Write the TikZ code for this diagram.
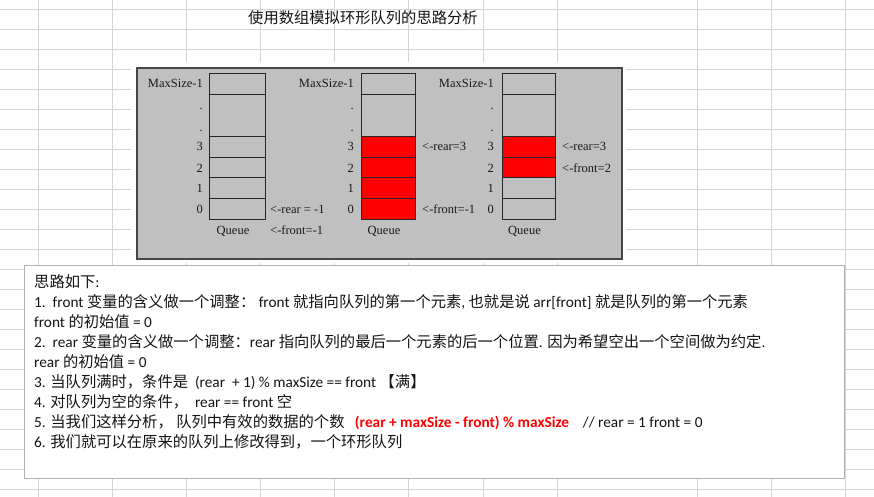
\documentclass[tikz,border=0pt]{standalone}
\usepackage{fontspec}
\setmainfont{Carlito}
\newfontfamily\cjkfont{Noto Sans CJK SC}
\newfontfamily\tnrfont{Liberation Serif}
\newcommand\C[1]{{\cjkfont #1}}
\definecolor{gridc}{RGB}{212,212,212}
\definecolor{boxgray}{RGB}{192,192,192}
\definecolor{boxedge}{RGB}{70,70,70}
\definecolor{tbedge}{RGB}{178,178,178}
\definecolor{txt}{RGB}{20,20,20}
\begin{document}
\begin{tikzpicture}[x=1pt,y=-1pt,
  lab/.style={font=\tnrfont\fontsize{12.5}{14}\selectfont, inner sep=0pt, text=black!90},
  cellw/.style={draw=black!85, line width=0.8pt, fill=boxgray},
  cellr/.style={draw=black!85, line width=0.8pt, fill=red},
  body/.style={font=\fontsize{15.3}{18}\selectfont, inner sep=0pt, anchor=base west, text=txt}]
\useasboundingbox (0,0) rectangle (874,497);
\fill[white] (0,0) rectangle (874,497);
% spreadsheet grid
\foreach \gx in {38,112,186,260,334,408,483,557,697,771,845}
  \draw[gridc, line width=0.8pt] (\gx,0) -- (\gx,497);
\foreach \k in {0,...,24}
  \draw[gridc, line width=0.8pt] (0,9+20*\k) -- (874,9+20*\k);
% title
\node[font=\cjkfont\fontsize{15.3}{18}\selectfont, inner sep=0pt, anchor=base west, text=txt] (title) at (248,24) {使用数组模拟环形队列的思路分析};
% gray diagram box
\fill[white] (131,62) rectangle (626,263);
\draw[boxedge, fill=boxgray, line width=1.3pt] (137,68) rectangle (622,259);
% queues
\foreach \xa/\xb/\lx/\q in {209/265/203/1, 361/415/354/2, 502/555/494/3}{
  \draw[cellw] (\xa,73) rectangle (\xb,94);
  \draw[cellw] (\xa,94) rectangle (\xb,136);
  \node[lab, anchor=base east] (max\q) at (\lx,88) {MaxSize-1};
  \node[lab, anchor=base east] (dota\q) at (\lx,110) {.};
  \node[lab, anchor=base east] (dotb\q) at (\lx,132) {.};
  \node[lab, anchor=base east] (n3\q) at (\lx,151) {3};
  \node[lab, anchor=base east] (n2\q) at (\lx,172) {2};
  \node[lab, anchor=base east] (n1\q) at (\lx,192) {1};
  \node[lab, anchor=base east] (n0\q) at (\lx,213) {0};
  \node[lab, anchor=base] (queue\q) at ({(\xa+\xb)/2-4},234) {Queue};
}
% queue 1 cells
\foreach \ya/\yb in {136/157,157/177,177/198,198/219}
  \draw[cellw] (209,\ya) rectangle (265,\yb);
% queue 2 cells
\foreach \ya/\yb in {136/157,157/177,177/198,198/219}
  \draw[cellr] (361,\ya) rectangle (415,\yb);
% queue 3 cells
\draw[cellr] (502,136) rectangle (555,157);
\draw[cellr] (502,157) rectangle (555,177);
\draw[cellw] (502,177) rectangle (555,198);
\draw[cellw] (502,198) rectangle (555,219);
% pointer labels
\node[lab, anchor=base west] (rear1) at (270,213) {<-rear = -1};
\node[lab, anchor=base west] (front1) at (270,234) {<-front=-1};
\node[lab, anchor=base west] (rear2) at (422,151) {<-rear=3};
\node[lab, anchor=base west] (front2) at (422,213) {<-front=-1};
\node[lab, anchor=base west] (rear3) at (562,151) {<-rear=3};
\node[lab, anchor=base west] (front3) at (562,172) {<-front=2};
% text box
\draw[tbedge, fill=white, line width=0.9pt] (24,265) rectangle (844,478);
\node[body] (l1) at (34,287) {\C{思路如下}:};
\node[body] (l2) at (34,307) {1.\ \ front \C{变量的含义做一个调整：} front \C{就指向队列的第一个元素}, \C{也就是说} arr[front] \C{就是队列的第一个元素}};
\node[body] (l3) at (34,327) {front \C{的初始值} = 0};
\node[body] (l4) at (34,347) {2.\ \ rear \C{变量的含义做一个调整：}rear \C{指向队列的最后一个元素的后一个位置}. \C{因为希望空出一个空间做为约定}.};
\node[body] (l5) at (34,367) {rear \C{的初始值} = 0};
\node[body] (l6) at (34,387) {3. \C{当队列满时，条件是}\ \ (rear\ \ + 1) \% maxSize == front \C{【满】}};
\node[body] (l7) at (34,407) {4. \C{对队列为空的条件，}\ \ rear == front \C{空}};
\node[body] (l8) at (34,427) {5. \C{当我们这样分析，}\ \C{队列中有效的数据的个数}\ \ \ \textcolor{red}{\bfseries (rear + maxSize - front) \% maxSize}\ \ \ \ // rear = 1 front = 0};
\node[body] (l9) at (34,447) {6. \C{我们就可以在原来的队列上修改得到，一个环形队列}};
\end{tikzpicture}
\end{document}
